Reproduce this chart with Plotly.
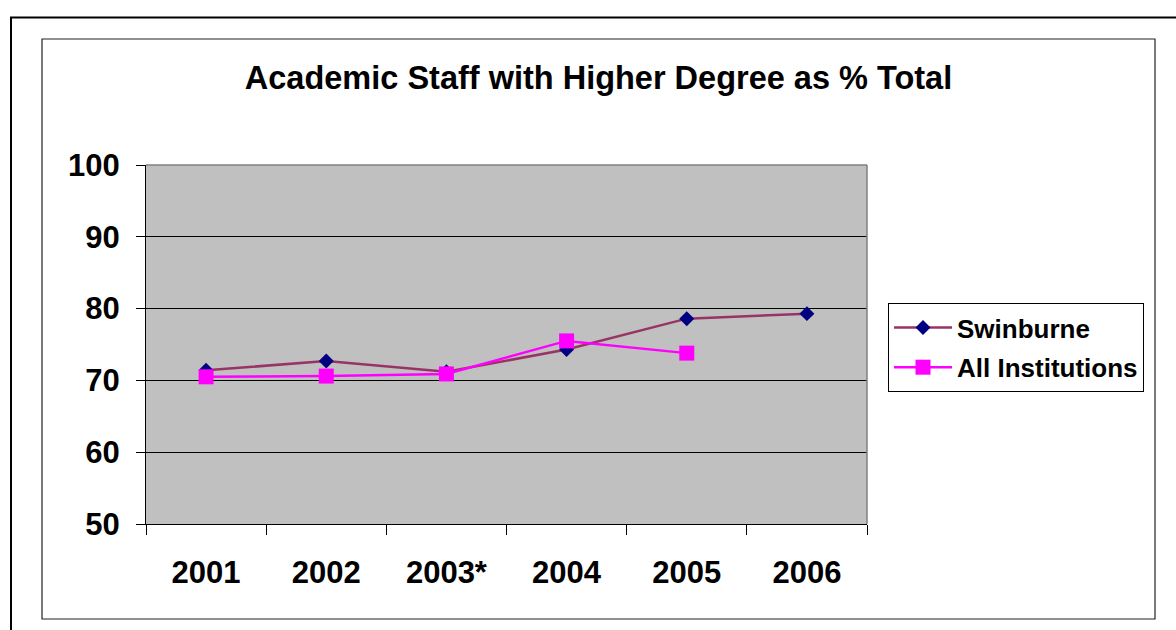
import plotly.graph_objects as go

years = ["2001", "2002", "2003*", "2004", "2005", "2006"]
swinburne = [71.4, 72.7, 71.2, 74.3, 78.6, 79.3]
all_inst = [70.5, 70.6, 70.9, 75.5, 73.8, None]
y_ticks = [50, 60, 70, 80, 90, 100]

W, H = 1176, 630
L, R, T, B = 146, 867, 165, 524

def px(x):
    return (x - L) / (R - L)

def py(y):
    return (B - y) / (B - T)

fig = go.Figure()
fig.add_trace(go.Scatter(
    x=years, y=swinburne, name="Swinburne", mode="lines+markers",
    line=dict(color="#993366", width=2.5),
    marker=dict(symbol="diamond", size=11.5, color="#000080"),
    legendgroup="a",
))
fig.add_trace(go.Scatter(
    x=years, y=all_inst, name="All Institutions", mode="lines+markers",
    line=dict(color="#FF00FF", width=2.5),
    marker=dict(symbol="square", size=15, color="#FF00FF"),
    legendgroup="b", connectgaps=False,
))

font_family = "Liberation Sans, Arial, sans-serif"

fig.update_layout(
    width=W, height=H,
    margin=dict(l=L, r=W - R, t=T, b=H - B, autoexpand=False),
    paper_bgcolor="white",
    plot_bgcolor="#C0C0C0",
    font=dict(family=font_family, color="black"),
    title=dict(
        text="Academic Staff with Higher Degree as % Total",
        x=598.5 / W, xref="container", xanchor="center",
        y=1 - 78 / H, yref="container", yanchor="middle",
        font=dict(size=32.5, weight="bold", family=font_family, color="black"),
    ),
    showlegend=True,
    legend=dict(
        x=px(888), y=py(303), xanchor="left", yanchor="top",
        xref="paper", yref="paper",
        bordercolor="black", borderwidth=1, bgcolor="white",
        font=dict(size=26, weight="bold", family=font_family, color="black"),
        traceorder="grouped", tracegroupgap=3, itemwidth=58,
    ),
    xaxis=dict(
        type="category", range=[-0.5, 5.5], tickson="boundaries",
        ticks="outside", ticklen=10, tickcolor="black", tickwidth=1,
        showgrid=False, showline=True, linecolor="black", linewidth=1,
        tickfont=dict(size=31, weight="bold", family=font_family, color="black"),
        ticklabelstandoff=21, fixedrange=True, zeroline=False,
    ),
    yaxis=dict(
        range=[50, 100], tickvals=y_ticks, ticktext=[str(v) for v in y_ticks],
        ticks="outside", ticklen=9, tickcolor="black", tickwidth=1,
        showgrid=True, gridcolor="black", gridwidth=1,
        showline=True, linecolor="black", linewidth=1,
        tickfont=dict(size=31, weight="bold", family=font_family, color="black"),
        ticklabelstandoff=10, zeroline=False, fixedrange=True,
    ),
    shapes=[
        dict(type="line", xref="paper", yref="paper", x0=0, x1=1, y0=1, y1=1,
             line=dict(color="#808080", width=1.5)),
        dict(type="line", xref="paper", yref="paper", x0=1, x1=1, y0=0, y1=1,
             line=dict(color="#808080", width=1.5)),
        dict(type="rect", xref="paper", yref="paper",
             x0=px(42), x1=px(1155), y0=py(619), y1=py(39),
             line=dict(color="#222222", width=1.2), layer="below"),
        dict(type="rect", xref="paper", yref="paper",
             x0=px(11), x1=px(1190), y0=py(650), y1=py(17.5),
             line=dict(color="black", width=2), layer="below"),
    ],
)

fig.write_html("out.html")
